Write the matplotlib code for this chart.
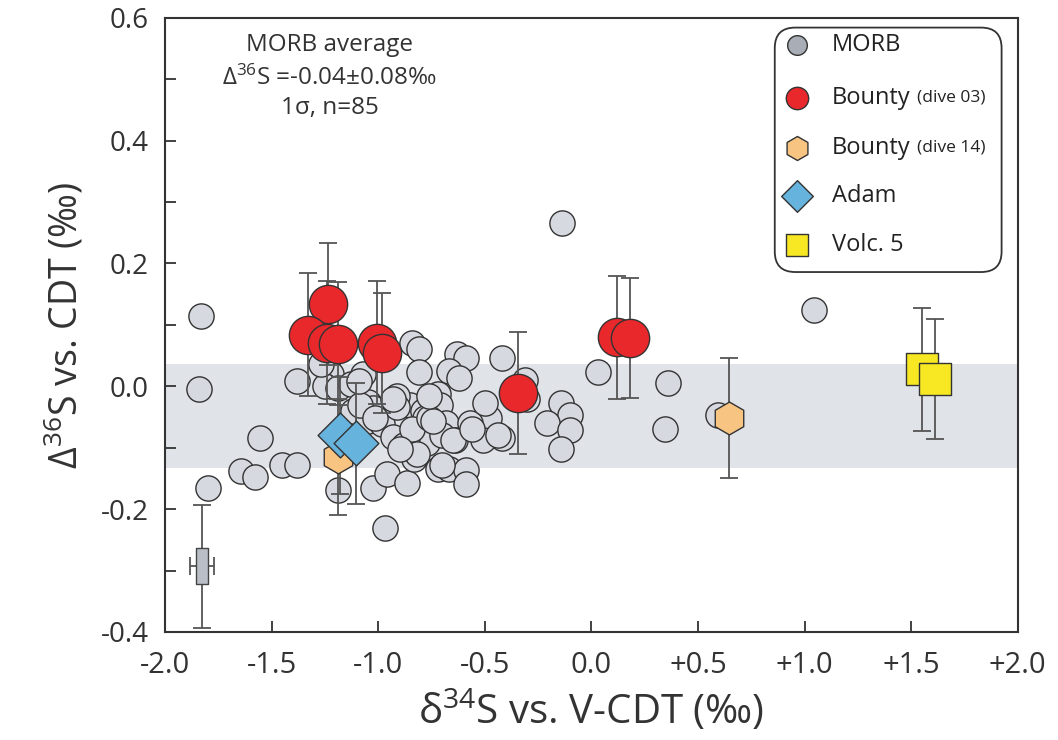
import numpy as np
import matplotlib
matplotlib.use("Agg")
import matplotlib.pyplot as plt
from matplotlib.patches import FancyBboxPatch
from matplotlib.path import Path

plt.rcParams['font.family'] = ['Open Sans', 'DejaVu Sans']
plt.rcParams['mathtext.fontset'] = 'custom'
plt.rcParams['mathtext.rm'] = 'Open Sans'
plt.rcParams['mathtext.it'] = 'Open Sans:italic'
plt.rcParams['mathtext.bf'] = 'Open Sans:bold'

# MORB glasses (d34S, D36S)
morb_x = [-1.83, -1.84, -1.80, -1.555, -1.645, -1.58, -1.45, -1.38, -1.38, -1.19,
          -0.97, -1.025, -0.96, -0.865, -0.14, 1.045, 0.03, 0.36, 0.345, 0.593,
          -0.42, -0.31, -0.30, -0.143, -0.10, -0.21, -0.10, -0.143, -0.48, -0.42,
          -0.51, -0.84, -0.81, -0.81, -0.63, -0.59, -0.67, -0.62, -0.85, -0.72,
          -0.71, -0.79, -0.78, -0.68, -0.57, -0.64, -0.77, -0.865, -0.83, -0.72,
          -0.67, -0.59, -0.59, -1.24, -1.22, -1.25, -1.19, -1.13, -1.07, -1.05,
          -1.12, -1.025, -1.05, -0.98, -0.91, -0.91, -0.93, -0.88, -0.84, -0.82,
          -0.76, -0.70, -0.70, -1.085, -1.015, -0.93, -0.90, -0.745, -0.65, -0.56,
          -0.44, -1.27, -1.09, -0.50, -0.76]
morb_y = [0.115, -0.005, -0.166, -0.084, -0.138, -0.148, -0.128, -0.128, 0.008, -0.169,
          -0.231, -0.166, -0.143, -0.157, 0.266, 0.124, 0.023, 0.005, -0.069, -0.046,
          0.046, 0.010, -0.020, -0.028, -0.046, -0.060, -0.071, -0.102, -0.051, -0.084,
          -0.087, 0.070, 0.061, 0.023, 0.052, 0.046, 0.025, 0.013, -0.030, -0.013,
          -0.030, -0.041, -0.052, -0.060, -0.060, -0.087, -0.093, -0.085, -0.118, -0.134,
          -0.134, -0.136, -0.159, 0.036, 0.020, 0.000, -0.003, 0.003, 0.020, -0.025,
          -0.040, -0.036, -0.057, -0.062, -0.016, -0.033, -0.082, -0.095, -0.069, -0.110,
          -0.052, -0.079, -0.128, -0.030, -0.052, -0.020, -0.102, -0.057, -0.087, -0.069,
          -0.079, 0.036, 0.008, -0.028, -0.016]

# Bounty dive 03
b03_x = [-1.236, -1.33, -1.24, -1.19, -1.005, -0.98, -0.345, 0.12, 0.18]
b03_y = [0.134, 0.084, 0.071, 0.069, 0.071, 0.054, -0.011, 0.080, 0.079]
b03_err = [0.10, 0.10, 0.10, 0.10, 0.10, 0.098, 0.10, 0.10, 0.098]

# Bounty dive 14
b14_x = [-1.19, 0.645]
b14_y = [-0.115, -0.052]
b14_err = [0.095, 0.098]

# Adam
adam_x = [-1.18, -1.105]
adam_y = [-0.080, -0.093]
adam_err = [0.095, 0.098]

# Volcano 5
v5_x = [1.55, 1.61]
v5_y = [0.028, 0.012]
v5_err = [0.10, 0.098]

# typical uncertainty
unc_x, unc_y = -1.826, -0.293
unc_xerr, unc_yerr = 0.056, 0.10

band_lo, band_hi = -0.133, 0.037

fig = plt.figure(figsize=(10.58, 7.40), dpi=100)
ax = fig.add_axes([0.156, 0.146, 0.806, 0.830])

ax.axhspan(band_lo, band_hi, color='#e0e3e8', lw=0, zorder=0)

ebc = '#555555'
ekw = dict(fmt='none', ecolor=ebc, elinewidth=1.3, capsize=6.5, capthick=1.3, zorder=3)

ax.scatter(morb_x, morb_y, s=330, c='#d6d9e0', edgecolors='#333333', linewidths=1.0, zorder=2)

ax.errorbar(b03_x, b03_y, yerr=b03_err, **ekw)
ax.errorbar(b14_x, b14_y, yerr=b14_err, **ekw)
ax.errorbar(adam_x, adam_y, yerr=adam_err, **ekw)
ax.errorbar(v5_x, v5_y, yerr=v5_err, **ekw)

ax.scatter(b03_x, b03_y, s=760, c='#e8282b', edgecolors='#333333', linewidths=1.0, zorder=4)
ax.scatter(b14_x, b14_y, s=560, marker='h', c='#f7c482', edgecolors='#333333', linewidths=1.0, zorder=4)
ax.scatter(adam_x, adam_y, s=520, marker='D', c='#66b3dd', edgecolors='#333333', linewidths=1.0, zorder=5)
ax.scatter(v5_x, v5_y, s=560, marker='s', c='#f7e823', edgecolors='#333333', linewidths=1.0, zorder=4)

# uncertainty symbol
tall = Path([(-0.36, -1), (0.36, -1), (0.36, 1), (-0.36, 1), (-0.36, -1)],
            [Path.MOVETO, Path.LINETO, Path.LINETO, Path.LINETO, Path.CLOSEPOLY])
ax.errorbar([unc_x], [unc_y], xerr=[unc_xerr], yerr=[unc_yerr], fmt='none', ecolor=ebc,
            elinewidth=1.3, capsize=6.5, capthick=1.3, zorder=3)
ax.scatter([unc_x], [unc_y], s=650, marker=tall, c='#b9bec7', edgecolors='#444444',
           linewidths=1.0, zorder=4)

ax.set_xlim(-2.0, 2.0)
ax.set_ylim(-0.4, 0.6)
xt = [-2.0, -1.5, -1.0, -0.5, 0.0, 0.5, 1.0, 1.5, 2.0]
xl = ['-2.0', '-1.5', '-1.0', '-0.5', '0.0', '+0.5', '+1.0', '+1.5', '+2.0']
ax.set_xticks(xt)
ax.set_xticklabels(xl)
ax.set_yticks([-0.4, -0.2, 0.0, 0.2, 0.4, 0.6])
ax.set_yticklabels(['-0.4', '-0.2', '0.0', '0.2', '0.4', '0.6'])
ax.set_yticks(np.arange(-0.3, 0.6, 0.2), minor=True)
ax.tick_params(axis='x', direction='in', length=8, width=1.3, color='#333333',
               labelsize=21, pad=14, labelcolor='#333333')
ax.tick_params(axis='y', which='both', direction='in', length=8, width=1.3, color='#333333',
               labelsize=20, pad=12, labelcolor='#333333', right=False)
for sp in ax.spines.values():
    sp.set_linewidth(1.5)
    sp.set_color('#333333')

ax.set_xlabel('δ$^{34}$S vs. V-CDT (‰)', fontsize=29, color='#333333', labelpad=6)
ax.set_ylabel(r'$\Delta^{36}$S vs. CDT (‰)', fontsize=27, color='#333333', labelpad=10)

# MORB average note
ax.text(0.193, 0.956, 'MORB average', transform=ax.transAxes, ha='center', va='center',
        fontsize=17.5, color='#333333')
ax.text(0.193, 0.902, r'$\Delta^{36}$S =-0.04±0.08‰', transform=ax.transAxes, ha='center',
        va='center', fontsize=17.5, color='#333333')
ax.text(0.193, 0.853, '1σ, n=85', transform=ax.transAxes, ha='center', va='center',
        fontsize=17.5, color='#333333')

# legend box
box = FancyBboxPatch((0.715, 0.586), 0.266, 0.398, transform=ax.transAxes,
                     boxstyle='round,pad=0,rounding_size=0.024', mutation_aspect=1.39,
                     fc='white', ec='#333333', lw=1.3, zorder=6)
ax.add_patch(box)
lx, tx, sx = 0.741, 0.782, 0.882
rows = [0.956, 0.870, 0.788, 0.710, 0.630]
mk = dict(transform=ax.transAxes, edgecolors='#333333', linewidths=1.0, zorder=7, clip_on=False)
ax.scatter([lx], [rows[0]], s=200, c='#a8adb6', **mk)
ax.scatter([lx], [rows[1]], s=260, c='#e8282b', **mk)
ax.scatter([lx], [rows[2]], s=300, marker='h', c='#f7c482', **mk)
ax.scatter([lx], [rows[3]], s=260, marker='D', c='#66b3dd', **mk)
ax.scatter([lx], [rows[4]], s=260, marker='s', c='#f7e823', **mk)
labels = ['MORB', 'Bounty', 'Bounty', 'Adam', 'Volc. 5']
for r, lab in zip(rows, labels):
    ax.text(tx, r, lab, transform=ax.transAxes, ha='left', va='center', fontsize=17,
            color='#222222', zorder=7)
ax.text(sx, rows[1], '(dive 03)', transform=ax.transAxes, ha='left', va='center',
        fontsize=12.5, color='#222222', zorder=7)
ax.text(sx, rows[2], '(dive 14)', transform=ax.transAxes, ha='left', va='center',
        fontsize=12.5, color='#222222', zorder=7)

fig.savefig('out.png', dpi=100)
